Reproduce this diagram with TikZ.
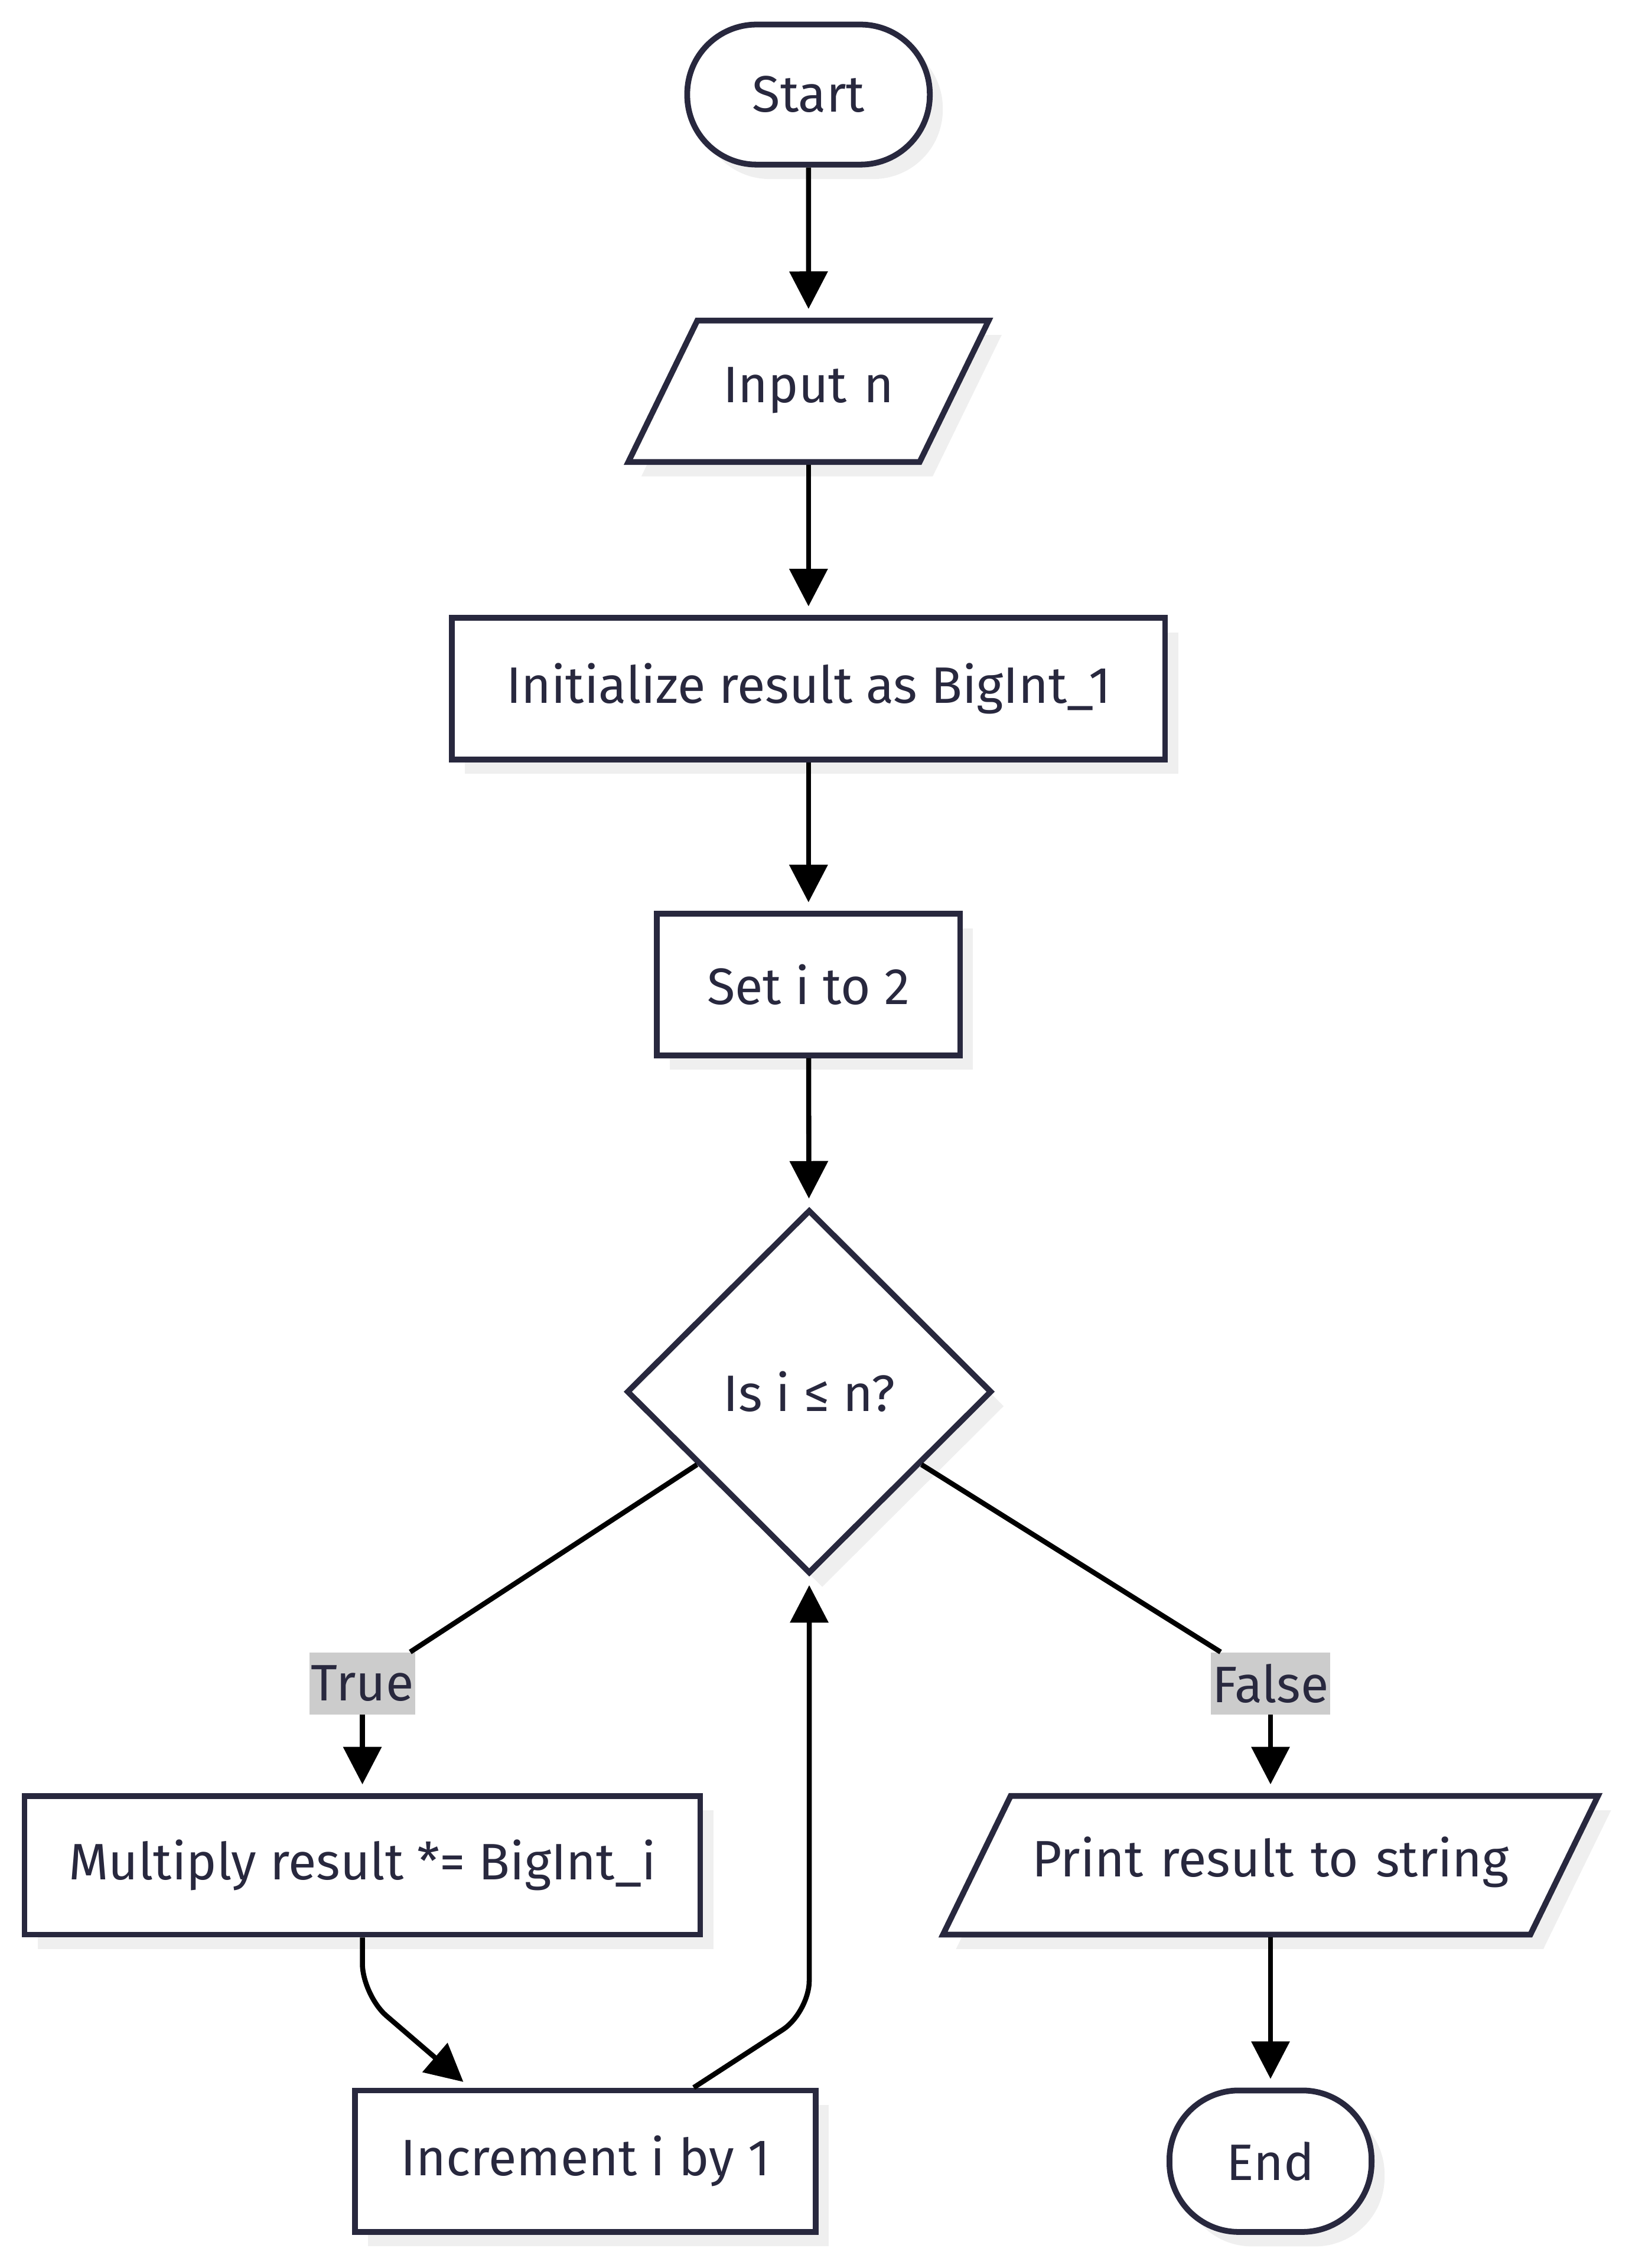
\documentclass[tikz,border=0pt]{standalone}
\usepackage{fontspec}
\setmainfont{Fira Sans}
\usetikzlibrary{shapes.geometric, arrows.meta, shadows, calc}
\definecolor{tinta}{RGB}{40,40,62}
\definecolor{sombra}{RGB}{239,239,239}
\definecolor{rotulo}{RGB}{204,204,204}

\begin{document}
\begin{tikzpicture}[x=1pt, y=1pt]
\tikzstyle{base}=[draw=tinta, line width=4pt, fill=white, text=tinta, font=\fontsize{35.5}{40}\selectfont,
  drop shadow={shadow xshift=9pt, shadow yshift=-10pt, fill=sombra, opacity=1}]
\tikzstyle{terminal}=[base, rectangle, minimum height=97pt, rounded corners=48pt]
\tikzstyle{inout}=[base, trapezium, trapezium left angle=64, trapezium right angle=116,
  inner xsep=0pt, align=center, text height=24pt, text depth=8pt]
\tikzstyle{process}=[base, rectangle, minimum height=98pt]
\tikzstyle{decision}=[base, diamond, minimum width=253pt, minimum height=252pt, inner sep=0pt]
\tikzstyle{arestas}=[rectangle, fill=rotulo, text=tinta, inner xsep=1pt, inner ysep=0pt,
  minimum height=43pt, font=\fontsize{35.5}{40}\selectfont]
\tikzstyle{seta}=[line width=3.5pt, black, -{Triangle[length=26pt, width=26pt]}, shorten >=6pt]
\tikzstyle{linha}=[line width=3.5pt, black]
\useasboundingbox (0,0) rectangle (1130,-1571);

\node[terminal, minimum width=168pt] (start) at (560,-65.5) {Start};
\node[inout, text width=154pt, inner ysep=33pt] (input) at (560,-271) {Input n};
\node[process, minimum width=494pt] (init) at (560,-477) {Initialize result as BigInt\_1};
\node[process, minimum width=210pt] (seti) at (560,-682) {Set i to 2};
\node[decision] (cond) at (560.5,-964) {Is i ≤ n?};
\node[arestas] (ltrue) at (251,-1166) {True};
\node[arestas] (lfalse) at (880,-1166) {False};
\node[process, minimum width=468pt, minimum height=96pt] (mult) at (251,-1292) {Multiply result *= BigInt\_i};
\node[inout, text width=360pt, inner ysep=32pt] (print) at (880,-1292) {Print result to string};
\node[process, minimum width=319pt] (incr) at (405.5,-1497) {Increment i by 1};
\node[terminal, minimum width=140pt, minimum height=98pt] (end) at (880,-1497) {End};

% fluxo principal
\draw[seta] (start) -- (input);
\draw[seta] (input) -- (init);
\draw[seta] (init) -- (seti);
\draw[seta] (seti) -- (cond);
% ramos da decisao
\draw[linha] (cond.213) -- (ltrue);
\draw[seta] (ltrue) -- (mult);
\draw[linha] (cond.327) -- (lfalse);
\draw[seta] (lfalse) -- (print);
% laco
\draw[seta, rounded corners=22pt] (mult.south) -- ++(0,-40) -- ([xshift=-80pt]incr.north);
\draw[seta, rounded corners=22pt] ([xshift=75pt]incr.north) -- ($(incr.north -| cond.south)+(0,52)$) -- (cond.south);
\draw[seta] (print) -- (end);
\end{tikzpicture}
\end{document}
